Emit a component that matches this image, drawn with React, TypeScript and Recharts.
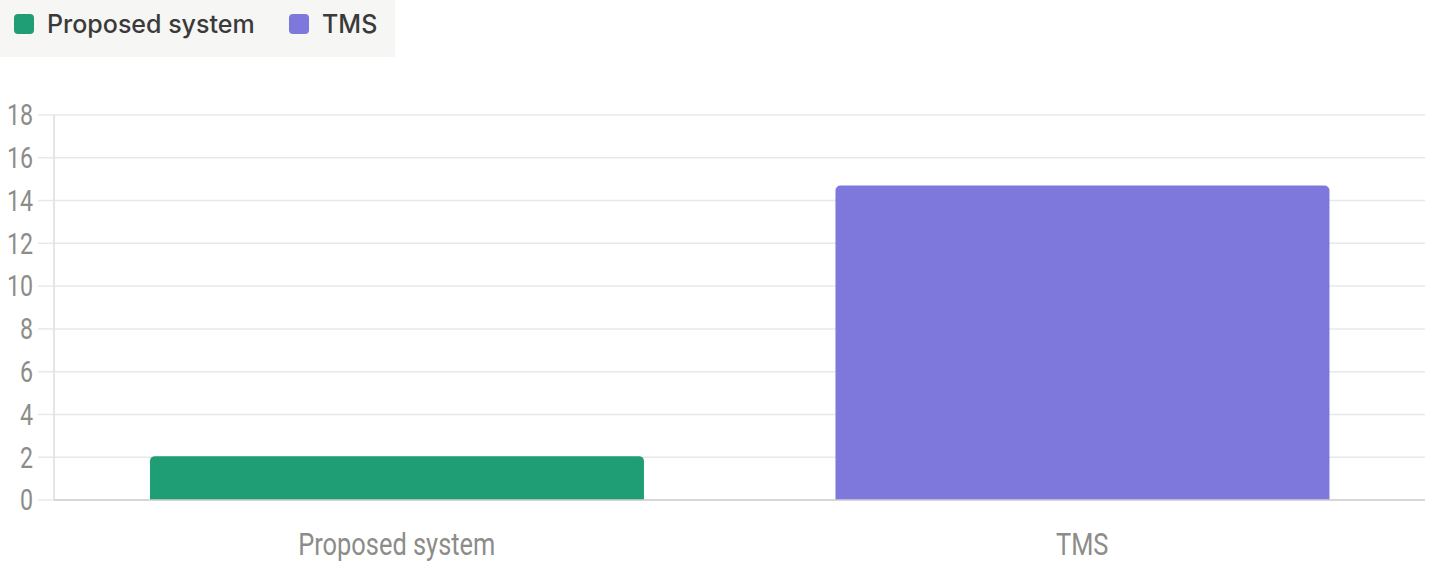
import React from "react";
import { BarChart, Bar, XAxis, YAxis, CartesianGrid } from "recharts";

const categories = ["Proposed system", "TMS"];
const proposedValues = [2.05, null];
const tmsValues = [null, 14.7];
const yTicks = [0, 2, 4, 6, 8, 10, 12, 14, 16, 18];

const GREEN = "#1f9e75";
const PURPLE = "#7f78dc";

const data = categories.map((c, i) => ({
  name: c,
  proposed: proposedValues[i],
  tms: tmsValues[i],
}));

const legendItems = [
  { label: "Proposed system", color: GREEN },
  { label: "TMS", color: PURPLE },
];

const TICK_COLOR = "#8c8c88";

const CondensedTick = (props: any) => {
  const { x, y, payload, textAnchor, vertical } = props;
  return (
    <g transform={`translate(${x},${y})`}>
      <text
        transform={`scale(${vertical ? 0.8 : 0.82},1)`}
        x={0}
        y={0}
        dy={vertical ? "0.355em" : "0.71em"}
        textAnchor={textAnchor}
        fill={TICK_COLOR}
        fontSize={vertical ? 29 : 31}
        fontFamily="Roboto, sans-serif"
      >
        {payload.value}
      </text>
    </g>
  );
};

export default function App() {
  return (
    <div style={{ position: "absolute", left: 0, top: 0, width: 1435, height: 564, background: "#fff" }}>
      <div
        style={{
          position: "absolute",
          left: 0,
          top: 0,
          width: 395,
          height: 57,
          background: "#f6f6f4",
          boxSizing: "border-box",
          fontFamily: "Inter, 'Noto Sans', sans-serif",
          fontSize: 25,
          fontWeight: 500,
          color: "#3a3a3a",
        }}
      >
        {legendItems.map((it, i) => (
          <div
            key={i}
            style={{
              position: "absolute",
              top: 10,
              left: i === 0 ? 14 : 289,
              display: "flex",
              alignItems: "center",
              height: 28,
            }}
          >
            <span
              style={{
                width: 20,
                height: 20,
                borderRadius: 4,
                background: it.color,
                display: "inline-block",
                marginRight: 13,
              }}
            />
            <span>{it.label}</span>
          </div>
        ))}
      </div>
      <div style={{ position: "absolute", left: 0, top: 0 }}>
        <BarChart
          width={1435}
          height={564}
          data={data}
          margin={{ top: 115, right: 10, bottom: 0, left: 0 }}
          barCategoryGap="14%"
        >
          <CartesianGrid vertical={false} stroke="#e8e8e8" strokeWidth={1.5} />
          <XAxis
            dataKey="name"
            height={64}
            tickLine={false}
            axisLine={{ stroke: "#cfcfcf", strokeWidth: 1.5 }}
            tick={(p: any) => <CondensedTick {...p} vertical={false} />}
            tickMargin={27}
          />
          <YAxis
            width={54}
            domain={[0, 18]}
            ticks={yTicks}
            interval={0}
            tickSize={16}
            tickMargin={5}
            axisLine={{ stroke: "#dcdcdc", strokeWidth: 1.5 }}
            tickLine={{ stroke: "#e8e8e8", strokeWidth: 1.5 }}
            tick={(p: any) => <CondensedTick {...p} vertical={true} />}
          />
          <Bar dataKey="proposed" stackId="a" fill={GREEN} radius={[5, 5, 0, 0]} isAnimationActive={false} />
          <Bar dataKey="tms" stackId="a" fill={PURPLE} radius={[5, 5, 0, 0]} isAnimationActive={false} />
        </BarChart>
      </div>
    </div>
  );
}
